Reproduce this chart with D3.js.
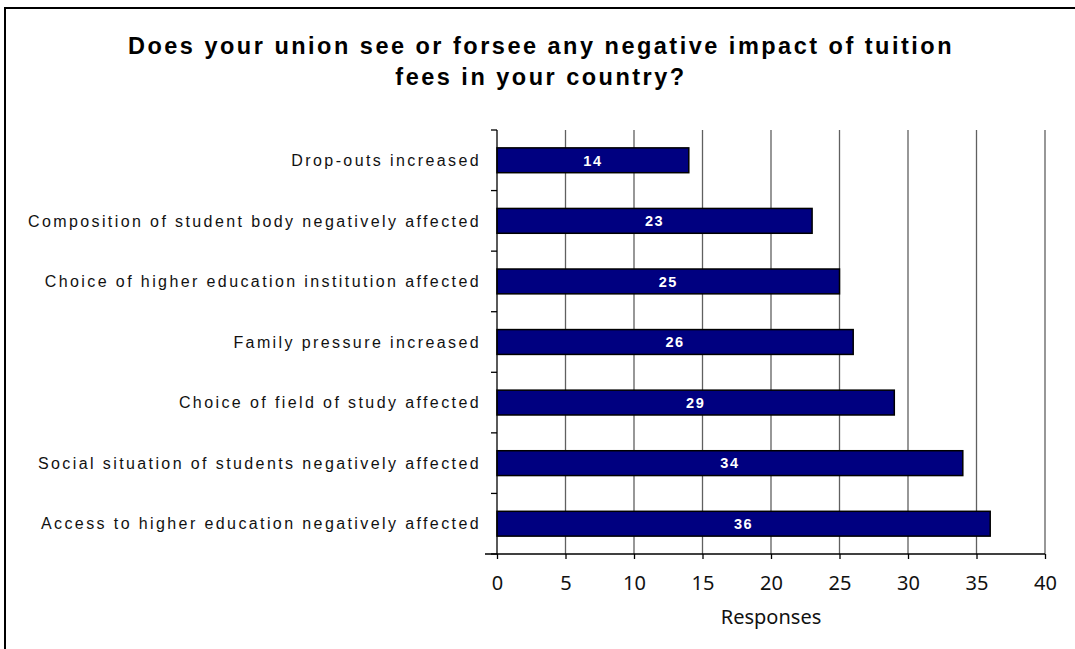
<!DOCTYPE html>
<html>
<head>
<meta charset="utf-8">
<script src="https://cdn.jsdelivr.net/npm/d3@7"></script>
<style>
  html, body { margin: 0; padding: 0; background: #fff; }
  svg { display: block; }
</style>
</head>
<body>
<svg id="chart" width="1075" height="649"></svg>
<script>
// Survey answers, top to bottom
const categories = [
  "Drop-outs increased",
  "Composition of student body negatively affected",
  "Choice of higher education institution affected",
  "Family pressure increased",
  "Choice of field of study affected",
  "Social situation of students negatively affected",
  "Access to higher education negatively affected"
];
const responses = [14, 23, 25, 26, 29, 34, 36];
const xTicks = [0, 5, 10, 15, 20, 25, 30, 35, 40];
const titleLines = [
  "Does your union see or forsee any negative impact of tuition",
  "fees in your country?"
];

const svg = d3.select("#chart");
const W = 1075, H = 649;
const margin = { left: 497, top: 130 };
const plotW = 1045 - margin.left;
const plotH = 554 - margin.top;
const sans = "'Liberation Sans', Arial, sans-serif";
const axisFont = "'Noto Sans', sans-serif";

// Spread a text selection's letters so a reference string spans the given width
function spreadTo(sel, sample, width) {
  const probe = svg.append("text").text(sample);
  ["font-family", "font-size", "font-weight"].forEach(a => probe.attr(a, sel.attr(a)));
  const w = probe.node().getComputedTextLength();
  probe.remove();
  sel.attr("letter-spacing", Math.max(0, (width - w) / sample.length));
}

// Outer frame
svg.append("rect")
  .attr("x", 5).attr("y", 8)
  .attr("width", W + 10).attr("height", H + 10)
  .attr("fill", "#fff").attr("stroke", "#000").attr("stroke-width", 2);

// Title
const title = svg.append("g").selectAll("text").data(titleLines).join("text")
  .attr("x", 541)
  .attr("y", (d, i) => 54 + i * 31)
  .attr("text-anchor", "middle")
  .attr("font-family", sans)
  .attr("font-weight", "bold")
  .attr("font-size", 23.5)
  .attr("fill", "#000")
  .text(d => d);
spreadTo(title, titleLines[0], 826);

const x = d3.scaleLinear().domain([0, 40]).range([0, plotW]);
const y = d3.scaleBand().domain(categories).range([0, plotH]).paddingInner(0.59).paddingOuter(0.295);

const g = svg.append("g").attr("transform", `translate(${margin.left},${margin.top})`);

// Vertical gridlines
g.append("g").selectAll("line").data(xTicks.filter(t => t > 0)).join("line")
  .attr("x1", d => x(d)).attr("x2", d => x(d))
  .attr("y1", 0).attr("y2", plotH)
  .attr("stroke", "#606060").attr("stroke-width", 1.3);

// Bars
g.append("g").selectAll("rect").data(responses).join("rect")
  .attr("x", x(0))
  .attr("y", (d, i) => y(categories[i]))
  .attr("width", d => x(d) - x(0))
  .attr("height", y.bandwidth())
  .attr("fill", "#000080")
  .attr("stroke", "#000").attr("stroke-width", 1.5);

// Value labels inside the bars
g.append("g").selectAll("text").data(responses).join("text")
  .attr("x", d => (x(0) + x(d)) / 2)
  .attr("y", (d, i) => y(categories[i]) + y.bandwidth() / 2)
  .attr("dy", "0.36em")
  .attr("text-anchor", "middle")
  .attr("font-family", sans)
  .attr("font-weight", "bold")
  .attr("font-size", 14.5)
  .attr("letter-spacing", 1.5)
  .attr("fill", "#fff")
  .text(d => d);

// Category axis: ticks between the bands
const catEdges = d3.range(categories.length + 1).map(i => i * plotH / categories.length);
const yAxis = g.append("g");
yAxis.append("line").attr("x1", 0).attr("x2", 0).attr("y1", 0).attr("y2", plotH)
  .attr("stroke", "#000").attr("stroke-width", 1.3);
yAxis.selectAll("line.tick").data(catEdges).join("line").attr("class", "tick")
  .attr("x1", -6).attr("x2", 0).attr("y1", d => d).attr("y2", d => d)
  .attr("stroke", "#000").attr("stroke-width", 1.3);
const catLabels = yAxis.selectAll("text").data(categories).join("text")
  .attr("x", -16)
  .attr("y", d => y(d) + y.bandwidth() / 2)
  .attr("dy", "0.36em")
  .attr("text-anchor", "end")
  .attr("font-family", sans)
  .attr("font-size", 16)
  .attr("fill", "#111")
  .text(d => d);
spreadTo(catLabels, categories[6], 440);

// Value axis
const xAxis = g.append("g").attr("transform", `translate(0,${plotH})`)
  .call(d3.axisBottom(x).tickValues(xTicks).tickSize(5).tickPadding(17));
xAxis.select(".domain").attr("stroke", "#000").attr("stroke-width", 1.3)
  .attr("d", `M-12,0H${plotW}`);
xAxis.selectAll(".tick line").attr("stroke", "#000").attr("stroke-width", 1.3);
xAxis.selectAll(".tick text")
  .attr("font-family", axisFont)
  .attr("font-size", 20)
  .attr("fill", "#111");

// Axis title
svg.append("text")
  .attr("x", margin.left + x(20))
  .attr("y", 624)
  .attr("text-anchor", "middle")
  .attr("font-family", axisFont)
  .attr("font-size", 20)
  .attr("fill", "#111")
  .text("Responses");
</script>
</body>
</html>
